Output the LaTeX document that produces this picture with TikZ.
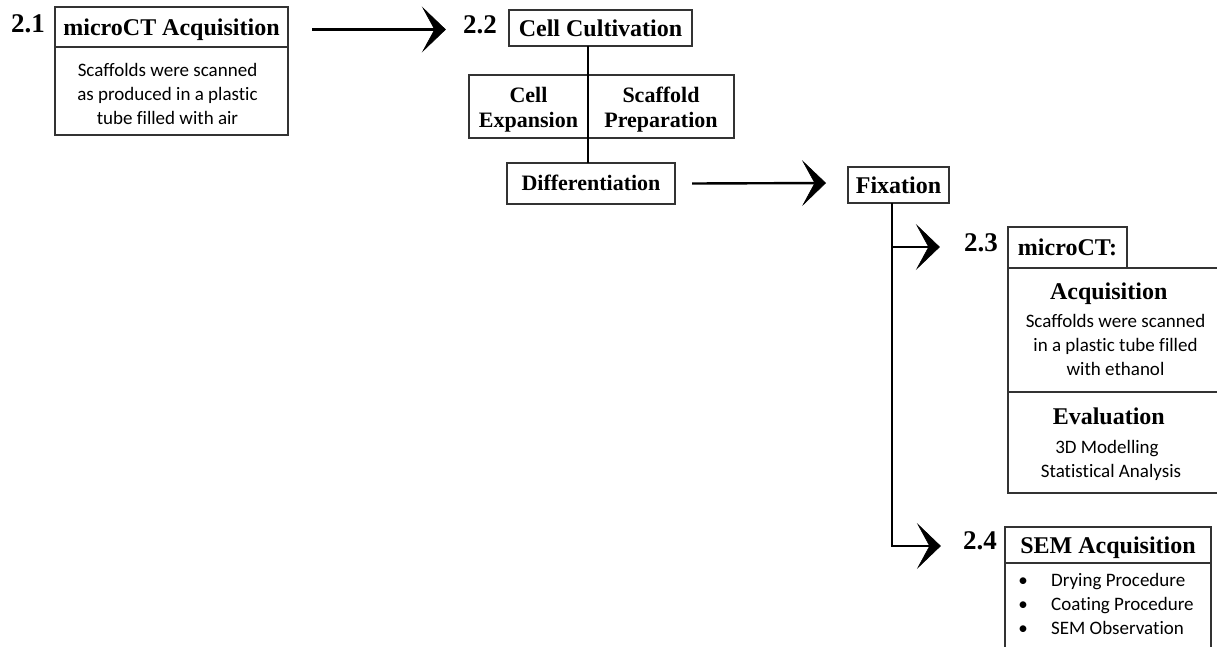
\documentclass[tikz,border=0pt]{standalone}
\usepackage{fontspec}
\setmainfont{Liberation Serif}
\newfontfamily\calfont[Ligatures={NoCommon,NoRequired,NoContextual}]{Carlito}
\usetikzlibrary{arrows.meta,calc}
\begin{document}
\begin{tikzpicture}[x=1pt,y=-1pt,
  box/.style={draw=black!80,line width=1.3pt,inner sep=0pt,outer sep=0pt},
  head/.style={font=\bfseries\fontsize{24}{28}\selectfont,text height=16pt,text depth=0pt},
  sub/.style={font=\bfseries\fontsize{22}{25}\selectfont,align=center},
  subone/.style={font=\bfseries\fontsize{22}{25}\selectfont,text height=14.6pt,text depth=0pt},
  lbl/.style={font=\bfseries\fontsize{27}{30}\selectfont,inner sep=0pt},
  body/.style={font=\calfont\fontsize{19}{24}\selectfont,align=center,inner sep=0pt},
  conn/.style={line width=2.4pt,-{Stealth[length=24pt,width=46pt,inset=12.5pt,line width=0.6pt]}},
  vline/.style={line width=2pt}]
\useasboundingbox (0,0) rectangle (1217,646);
\clip (0,0) rectangle (1217,646);

% 2.1
\node[lbl,anchor=east] (l21) at (45,24) {2.1};
\node[box,head,minimum width=233pt,minimum height=40pt] (h21) at (171.5,27) {microCT Acquisition};
\node[box,minimum width=233pt,minimum height=88pt] (b21) at (171.5,91) {};
\node[body] (t21) at (167.5,94) {Scaffolds were scanned\\as produced in a plastic\\tube filled with air};

% 2.2
\node[lbl,anchor=east] (l22) at (497,25) {2.2};
\node[box,head,minimum width=183pt,minimum height=36pt] (h22) at (600.5,28) {Cell Cultivation};
\node[box,sub,minimum width=119pt,minimum height=63pt] (ce) at (528.5,106.5) {\rule{0pt}{21pt}Cell\\Expansion};
\node[box,sub,minimum width=146pt,minimum height=63pt] (sp) at (661,106.5) {\rule{0pt}{21pt}Scaffold\\Preparation};
\node[box,subone,minimum width=168pt,minimum height=41pt] (diff) at (591,183.5) {Differentiation};
\draw[vline] (h22.south -| ce.east) -- (diff.north -| ce.east);

% Fixation
\node[box,head,minimum width=101pt,minimum height=36pt] (fix) at (898.5,185) {Fixation};

% 2.3
\node[lbl,anchor=east] (l23) at (998,243) {2.3};
\node[box,head,minimum width=119pt,minimum height=41pt] (h23) at (1067.5,247.5) {microCT:};
\node[box,minimum width=214pt,minimum height=124pt] (acq) at (1115,330) {};
\node[box,minimum width=214pt,minimum height=101pt] (eval) at (1115,442.5) {};
\node[head,inner sep=0pt] (acqT) at (1108.7,291) {Acquisition};
\node[body] (acqB) at (1115.5,345) {Scaffolds were scanned\\in a plastic tube filled\\with ethanol};
\node[head,inner sep=0pt] (evalT) at (1108.8,416) {Evaluation};
\node[body] (evalB) at (1111,460) {3D Modelling\hspace*{8pt}\\Statistical Analysis};

% 2.4
\node[lbl,anchor=east] (l24) at (997,541) {2.4};
\node[box,head,minimum width=206pt,minimum height=36pt] (h24) at (1108,545) {SEM Acquisition};
\node[box,minimum width=206pt,minimum height=97pt] (sem) at (1108,611.5) {};
\node[body,align=left,anchor=west] (semL) at (1019,604) {%
\makebox[32pt][l]{\makebox[8pt]{\textbullet}}Drying Procedure\\
\makebox[32pt][l]{\makebox[8pt]{\textbullet}}Coating Procedure\\
\makebox[32pt][l]{\makebox[8pt]{\textbullet}}SEM Observation};

% connectors
\coordinate (a1s) at ($(h21.east)+(24,2.5)$);
\coordinate (a1e) at ($(l22.west)+(-17,4.5)$);
\draw[conn] (a1s) -- (a1e);
\coordinate (a2s) at ($(diff.east)+(17,0)$);
\coordinate (a2e) at ($(fix.west)+(-22,-2)$);
\draw[conn] (a2s) -- (a2e);
\coordinate (fj) at ($(fix.south)+(-6.5,0)$);
\coordinate (a3e) at ($(l23.west)+(-24,4)$);
\coordinate (a4e) at ($(l24.west)+(-22,5)$);
\draw[conn] (fj) |- (a3e);
\draw[conn] (fj) |- (a4e);
\end{tikzpicture}
\end{document}
